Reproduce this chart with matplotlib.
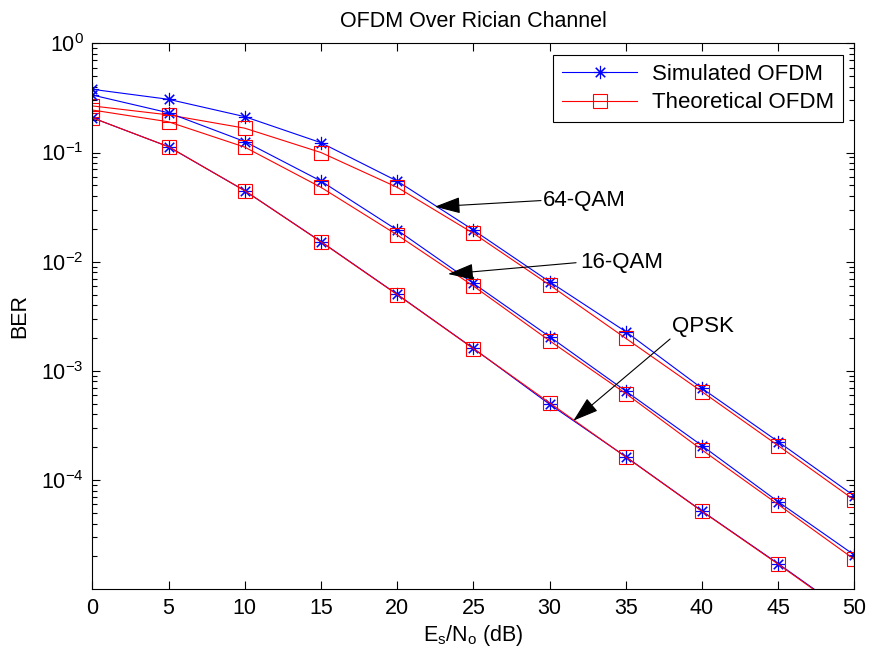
import numpy as np
import matplotlib
matplotlib.use('Agg')
import matplotlib.pyplot as plt
from matplotlib.ticker import FixedLocator, FixedFormatter, NullFormatter

plt.rcParams['font.family'] = ['Liberation Sans', 'DejaVu Sans']
plt.rcParams['mathtext.fontset'] = 'custom'
plt.rcParams['mathtext.rm'] = 'Liberation Sans'
plt.rcParams['mathtext.it'] = 'Liberation Sans:italic'

# Es/No in dB
snr_db = [0, 5, 10, 15, 20, 25, 30, 35, 40, 45, 50]

# BER values
sim_64qam = [0.379, 0.307, 0.213, 0.123, 0.0548, 0.0195, 0.00656, 0.00229, 0.000693, 0.000225, 7.15e-5]
theo_64qam = [0.267, 0.221, 0.167, 0.100, 0.048, 0.0182, 0.00612, 0.00199, 0.000645, 0.000207, 6.57e-5]
sim_16qam = [0.336, 0.231, 0.126, 0.0548, 0.0195, 0.00634, 0.00206, 0.000654, 0.000207, 6.34e-5, 2.06e-5]
theo_16qam = [0.245, 0.191, 0.112, 0.048, 0.0176, 0.00599, 0.00189, 0.000621, 0.000189, 5.98e-5, 1.88e-5]
sim_qpsk = [0.208, 0.113, 0.0447, 0.0153, 0.00503, 0.00161, 0.000495, 0.000164, 5.21e-5, 1.72e-5, 5.5e-6]
theo_qpsk = [0.208, 0.113, 0.0447, 0.0152, 0.00500, 0.00160, 0.000510, 0.000163, 5.18e-5, 1.70e-5, 5.4e-6]

x_ticks = [0, 5, 10, 15, 20, 25, 30, 35, 40, 45, 50]
y_major = [1e-4, 1e-3, 1e-2, 1e-1, 1e0]
y_labels = [r'$\mathregular{10^{-4}}$', r'$\mathregular{10^{-3}}$', r'$\mathregular{10^{-2}}$',
            r'$\mathregular{10^{-1}}$', r'$\mathregular{10^{0}}$']

fig = plt.figure(figsize=(8.71, 6.57), dpi=100)
ax = fig.add_axes([0.1060, 0.1030, 0.8749, 0.8311])

star = (8, 2, 0)
sim_style = dict(color='#0000ff', lw=0.8, marker=star, ms=9.5, mew=0.8)
theo_style = dict(color='#ff0000', lw=0.8, marker='s', ms=10, mew=0.8, mfc='none')

for i, (sim, theo) in enumerate([(sim_64qam, theo_64qam), (sim_16qam, theo_16qam), (sim_qpsk, theo_qpsk)]):
    ax.semilogy(snr_db, sim, label='Simulated OFDM' if i == 0 else None, **sim_style)
    ax.semilogy(snr_db, theo, label='Theoretical OFDM' if i == 0 else None, **theo_style)

ax.set_xlim(0, 50)
ax.set_ylim(1e-5, 1)
ax.set_xticks(x_ticks)
ax.yaxis.set_major_locator(FixedLocator(y_major))
ax.yaxis.set_major_formatter(FixedFormatter(y_labels))
minor = [m * 10.0 ** e for e in range(-5, 0) for m in range(2, 10)]
ax.yaxis.set_minor_locator(FixedLocator(minor))
ax.yaxis.set_minor_formatter(NullFormatter())

ax.tick_params(which='both', direction='in', top=True, right=True, labelsize=15.5, width=0.8)
ax.tick_params(which='major', length=6, pad=6)
ax.tick_params(which='minor', length=3.5)
for s in ax.spines.values():
    s.set_linewidth(0.8)

ax.set_title('OFDM Over Rician Channel', fontsize=15.5, pad=12)
ax.set_xlabel(r'$\mathregular{E_s/N_o}$ (dB)', fontsize=15.5, labelpad=3)
ax.set_ylabel('BER', fontsize=15.5, labelpad=8)

leg = ax.legend(loc='upper right', bbox_to_anchor=(0.985, 0.979), borderaxespad=0,
                fontsize=16, numpoints=1, handlelength=3.4, handletextpad=0.65,
                labelspacing=0.35, borderpad=0.4, fancybox=False, framealpha=1)
leg.get_frame().set_edgecolor('black')
leg.get_frame().set_linewidth(0.8)

# arrows from the label to the curve
arrow_kw = dict(arrowstyle='-|>,head_length=1.0,head_width=0.32', color='black', lw=0.8,
                shrinkA=0, shrinkB=0, mutation_scale=16)
ax.annotate('', xy=(22.47, 0.0319), xytext=(29.44, 0.0363), arrowprops=arrow_kw)
ax.text(29.57, 0.0362, '64-QAM', fontsize=16, ha='left', va='center')
ax.annotate('', xy=(23.34, 0.00772), xytext=(31.74, 0.00979), arrowprops=arrow_kw)
ax.text(32.0, 0.0098, '16-QAM', fontsize=16, ha='left', va='center')
ax.annotate('', xy=(31.56, 0.00035), xytext=(37.91, 0.00196), arrowprops=arrow_kw)
ax.text(38.02, 0.00255, 'QPSK', fontsize=16, ha='left', va='center')

fig.savefig('out.png', dpi=100)
